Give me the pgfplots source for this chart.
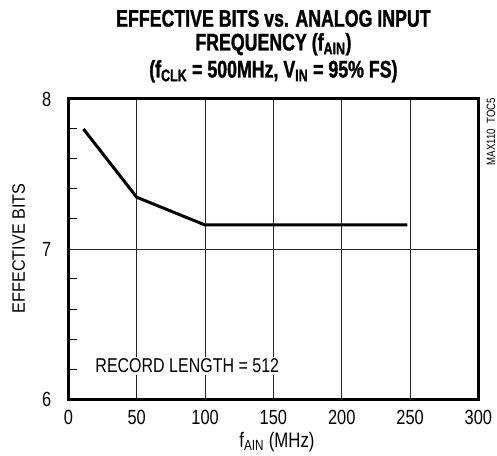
\documentclass[border=0pt]{standalone}
\usepackage{fontspec}
\setmainfont{Liberation Sans}[FakeStretch=0.8]
\newfontfamily\ylfont{Liberation Sans}[FakeStretch=0.9]
\newfontfamily\titlefont{Liberation Sans}[FakeStretch=0.74, BoldFeatures={FakeBold=1.2}]
\usepackage{pgfplots}
\pgfplotsset{compat=1.18}
\begin{document}
\begin{tikzpicture}
\begin{axis}[
    name=main,
    scale only axis,
    width=410pt, height=300pt,
    xmin=0, xmax=300, ymin=6, ymax=8,
    xtick={0,50,...,300},
    ytick={6,7,8},
    minor ytick={6.2,6.4,6.6,6.8,7.2,7.4,7.6,7.8},
    xmajorgrids,
    extra y ticks={7}, extra y tick labels={},
    extra y tick style={grid=major, major tick length=0pt},
    major grid style={black!85, line width=0.8pt},
    axis line style={line width=3pt},
    major tick length=0pt,
    minor tick length=9pt,
    minor tick style={black, line width=1pt},
    tick pos=left,
    tick align=inside,
    ticklabel style={font=\fontsize{20.5}{20.5}\selectfont, inner sep=0pt},
    /pgf/number format/assume math mode=true,
    xticklabel style={anchor=base, yshift=-25pt},
    yticklabel style={anchor=east, xshift=-17pt},
    clip mode=individual,
]
\addplot[black, line width=3pt, line join=miter] coordinates {
  (11,7.80) (50,7.345) (100,7.16) (248,7.16)
};
\node[anchor=base west, fill=white, inner sep=2pt, font=\fontsize{20}{20}\selectfont]
  at (axis cs:18.2,6.175) {RECORD LENGTH = 512};
\end{axis}
% axis labels, side code and title
\node[anchor=base, inner sep=0pt, font=\fontsize{21}{21}\selectfont]
  at (208.6pt,-48pt) {f\textsubscript{AIN} (MHz)};
\node[rotate=90, anchor=base, inner sep=0pt, font=\ylfont\fontsize{18}{18}\selectfont]
  at (-43.4pt,150.5pt) {EFFECTIVE BITS};
\node[rotate=90, anchor=base east, inner sep=0pt, font=\fontsize{12}{12}\selectfont]
  at (426.6pt,301pt) {MAX110\ \ TOC5};
\begin{scope}[every node/.style={anchor=base, inner sep=0pt, font=\titlefont\bfseries\fontsize{24}{24}\selectfont}]
\node at (205pt,372.3pt) {EFFECTIVE BITS vs. ANALOG INPUT};
\node at (205pt,348.5pt) {FREQUENCY (f\textsubscript{AIN})};
\node at (205pt,321.5pt) {(f\textsubscript{CLK} = 500MHz, V\textsubscript{IN} = 95\% FS)};
\end{scope}
\pgfresetboundingbox
\path[use as bounding box] (-68.4pt,-56pt) rectangle (428.6pt,399pt);
\end{tikzpicture}
\end{document}
